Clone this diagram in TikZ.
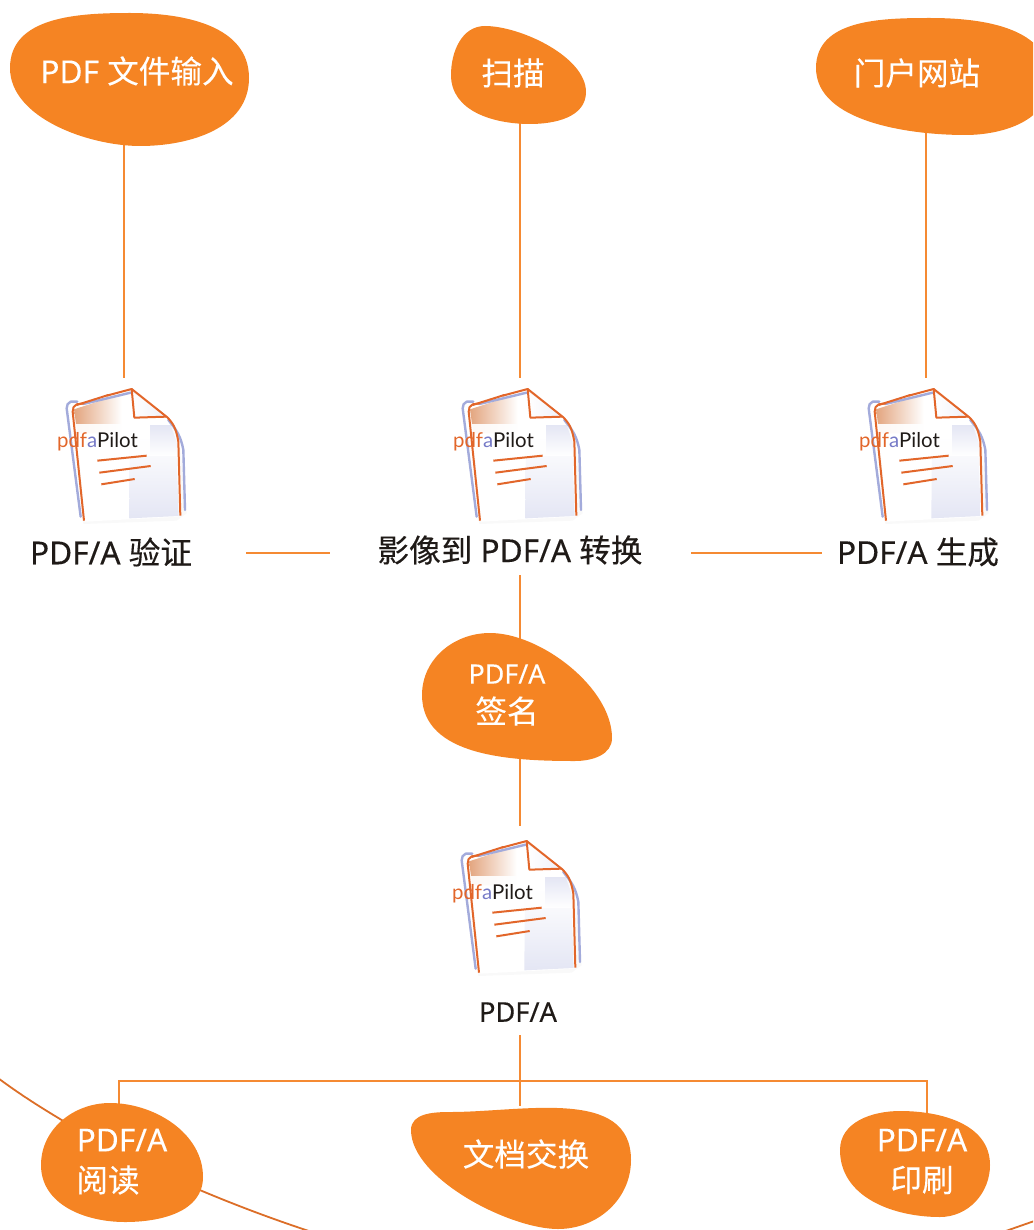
\documentclass[tikz,border=0pt]{standalone}
\usepackage{fontspec}
\setmainfont{Noto Sans}
\newfontfamily\wlat[FakeBold=.15]{Noto Sans}
\newfontfamily\wcjk[FakeBold=.15]{Noto Sans CJK SC}
\newfontfamily\blat[FakeBold=.3]{Noto Sans}
\newfontfamily\bcjk[FakeBold=.3]{Noto Sans CJK SC}
\newfontfamily\iconfont{Lato}
\definecolor{blobc}{HTML}{F58423}
\definecolor{linec}{HTML}{F58A33}
\definecolor{arcc}{HTML}{DC6E28}
\definecolor{iconor}{HTML}{E2662A}
\definecolor{iconbl}{HTML}{A3ABDB}
\definecolor{icontan}{HTML}{E3A57F}
\definecolor{iconlav}{HTML}{E4E6F4}
\definecolor{txt}{HTML}{1F1A17}
\tikzset{
  blob/.style={fill=blobc,draw=none},
  conn/.style={draw=linec,line width=1pt},
  arcl/.style={draw=arcc,line width=.9pt},
  hub/.style={inner sep=0pt,outer sep=0pt,minimum width=#1,draw=none,rectangle},
  hub/.default=1pt,
  wlabel/.style={text=white,font=\wlat\fontsize{15.8}{19}\selectfont,inner sep=0pt},
  wsmall/.style={text=white,font=\wlat\fontsize{13.4}{16}\selectfont,inner sep=0pt},
  blabel/.style={text=txt,font=\blat\fontsize{15.8}{19}\selectfont,inner sep=0pt},
  slabel/.style={text=txt,font=\blat\fontsize{13.6}{17}\selectfont,inner sep=0pt},
  iconor/.style={draw=iconor,line width=1pt,line join=round},
  iconbl/.style={draw=iconbl,line width=1.2pt,line join=round,line cap=round},
  qa/.style={out=90,in=180,looseness=#1},
  qb/.style={out=0,in=90,looseness=#1},
  qc/.style={out=-90,in=0,looseness=#1},
  qd/.style={out=180,in=-90,looseness=#1},
}
\newcommand{\zw}[1]{{\wcjk\fontsize{15.8}{19}\selectfont #1}}
\newcommand{\zb}[1]{{\bcjk #1}}
\newcommand{\pdficon}[3]{%
\begin{scope}[shift={(#2,#3)},x=.16667pt,y=-.16667pt]
  \fill[white!95!gray] (98,125) -- (275,60) -- (385,145) -- (418,205) -- (440,430) -- (410,452) -- (130,462) -- cycle;
  \fill[white] (105,125) -- (275,65) -- (380,145) -- (412,210) -- (418,440) -- (135,455) -- cycle;
  \shade[left color=icontan,right color=white] (102,118) -- (245,72) -- (245,190) -- (112,190) -- cycle;
  \shade[top color=white,bottom color=iconlav] (270,200) -- (408,200) -- (416,438) -- (268,445) -- cycle;
  \shade[top color=iconlav,bottom color=white] (330,165) -- (392,165) -- (410,215) -- (412,258) -- (330,258) -- cycle;
  \shade[left color=white,right color=iconlav!60!white] (275,70) -- (285,145) -- (380,142) -- cycle;
  \fill[white,opacity=.92] (100,162) rectangle (330,258);
  \draw[iconbl] (112,95) -- (92,95) to[out=200,in=90] (80,115) -- (122,440);
  \draw[iconbl] (130,102) -- (272,68);
  \draw[iconbl] (385,150) to[out=-50,in=100] (430,240) -- (435,420);
  \draw[iconor] (132,100) -- (110,103) to[out=200,in=90] (98,125) -- (132,452);
  \draw[iconor] (110,105) -- (205,75);
  \draw[iconor] (200,77) -- (275,57) -- (283,143) -- (378,140);
  \draw[iconor] (275,57) -- (382,142) to[out=-45,in=100] (415,215) -- (421,437);
  \node[anchor=base west,inner sep=0pt,font=\iconfont\fontsize{10.2}{13}\selectfont] (#1) at (50,231) {\textcolor{iconor}{pdf}\textcolor{iconbl!70!blue!70!gray}{a}\textcolor{txt}{Pilot}};
  \draw[iconor] (172,272) -- (320,257);
  \draw[iconor] (178,308) -- (332,288);
  \draw[iconor] (184,343) -- (284,327);
\end{scope}}
\begin{document}
\begin{tikzpicture}[x=.5pt,y=-.5pt]
\useasboundingbox (0,0) rectangle (1033,1230);
\clip (0,0) rectangle (1033,1230);
% invisible anchors for the connectors
\node[hub=10pt,minimum height=70pt] (hubA) at (124,70) {};
\node[hub=10pt,minimum height=60pt] (hubB) at (520,60) {};
\node[hub=10pt,minimum height=65pt] (hubC) at (926,65) {};
\node[hub=10pt,minimum height=74pt] (iconA) at (124,452) {};
\node[hub=10pt,minimum height=74pt] (iconB) at (520,452) {};
\node[hub=10pt,minimum height=74pt] (iconC) at (926,452) {};
\node[hub=135pt,minimum height=15pt] (rowA) at (111,553) {};
\node[hub=180.5pt,minimum height=15pt] (rowB) at (510.5,553) {};
\node[hub=96pt,minimum height=15pt] (rowC) at (918,553) {};
\node[hub=10pt,minimum height=35pt] (sigtop) at (520,610) {};
\node[hub=10pt,minimum height=40.5pt] (sigbot) at (520,785.5) {};
\node[hub=10pt,minimum height=104.5pt] (iconD) at (520,930.5) {};
\node[hub=10pt,minimum height=3pt] (endF) at (520,1103) {};
\node[hub=10pt,minimum height=62pt] (blobE) at (119,1167) {};
\node[hub=10pt,minimum height=55pt] (blobG) at (927,1171) {};
\coordinate (bus) at (520,1081);
% connectors
\draw[conn] (hubA.south) -- (iconA.north);
\draw[conn] (hubB.south) -- (iconB.north);
\draw[conn] (hubC.south) -- (iconC.north);
\draw[conn] (rowA.east) -- (rowB.west);
\draw[conn] (rowB.east) -- (rowC.west);
\draw[conn] (sigtop.north) -- (sigtop.south);
\draw[conn] (sigbot.north) -- (iconD.north);
\draw[conn] (iconD.south) -- (endF.south);
\draw[conn] (blobE.north) |- (bus) -| (blobG.north);
% large arc behind the blobs
\draw[arcl] (-10,1072) .. controls (20,1095) and (45,1110) .. (70,1125);
\draw[arcl] (195,1188) .. controls (235,1205) and (275,1220) .. (315,1233);
\draw[arcl] (1000,1233) -- (1040,1219);
% blobs
\fill[blob] (10,68) to[qa=1] (130,13) to[qb=1] (249,78) to[qc=1] (140,146) to[qd=.85] cycle;
\fill[blob] (451,75) to[qa=1] (485,26) to[qb=.75] (586,92) to[qc=1] (530,124) to[qd=1] cycle;
\fill[blob] (816,68) to[qa=1] (930,18) to[qb=1] (1050,80) to[qc=1] (965,135) to[qd=.85] cycle;
\fill[blob] (422,695) to[qa=1] (490,633) to[qb=.8] (612,738) to[qc=1] (575,761) to[qd=.95] cycle;
\fill[blob] (41,1165) to[qa=1] (110,1103) to[qb=.95] (203,1177) to[qc=1] (125,1222) to[qd=1] cycle;
\fill[blob] (411,1130) to[qa=1] (450,1112) to[qb=1] (631,1160) to[qc=1] (558,1229) to[qd=.7] cycle;
\fill[blob] (840,1150) to[qa=1] (900,1111) to[qb=1] (990,1165) to[qc=1] (940,1217) to[qd=1] cycle;
% icons
\pdficon{pilotA}{40}{370}
\pdficon{pilotB}{436}{370}
\pdficon{pilotC}{842}{370}
\pdficon{pilotD}{435}{822}
% labels
\node[wlabel] (tA) at (137,71) {PDF \zw{文件输入}};
\node[wlabel] (tB) at (513,73) {\zw{扫描}};
\node[wlabel] (tC) at (917,73) {\zw{门户网站}};
\node[blabel] (lA) at (111,552) {PDF/A \zb{验证}};
\node[blabel] (lB) at (510,550) {\zb{影像到} PDF/A \zb{转换}};
\node[blabel] (lC) at (918,552) {PDF/A \zb{生成}};
\node[wsmall] (tD1) at (507,674) {PDF/A};
\node[wlabel] (tD2) at (507,711) {\zw{签名}};
\node[slabel] (lD) at (518,1012) {PDF/A};
\node[wlabel] (tE1) at (122,1140) {PDF/A};
\node[wlabel] (tE2) at (108,1180) {\zw{阅读}};
\node[wlabel] (tF) at (526,1154) {\zw{文档交换}};
\node[wlabel] (tG1) at (922,1140) {PDF/A};
\node[wlabel] (tG2) at (922,1180) {\zw{印刷}};
\end{tikzpicture}
\end{document}
